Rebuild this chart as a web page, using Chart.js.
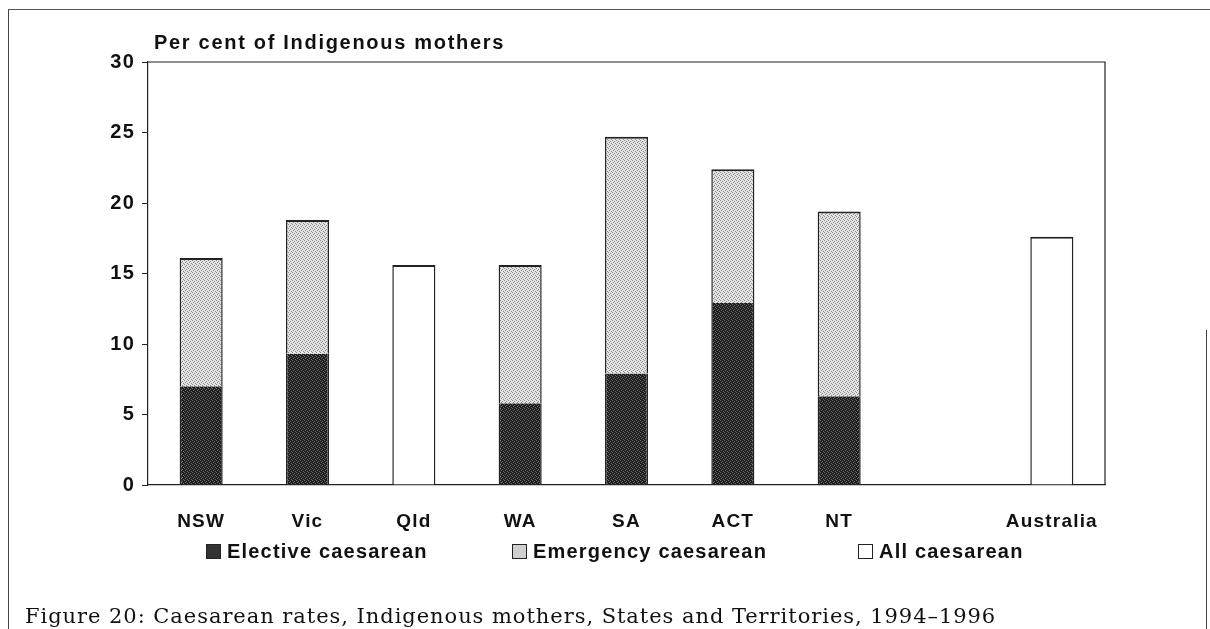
<!DOCTYPE html>
<html>
<head>
<meta charset="utf-8">
<script src="https://cdn.jsdelivr.net/npm/chart.js@4/dist/chart.umd.min.js"></script>
<style>
  html, body { margin: 0; padding: 0; background: #fff; }
  #page { position: relative; width: 1210px; height: 629px; overflow: hidden; }
  #frame { position: absolute; left: 8px; top: 9px; width: 1210px; height: 640px;
           border-top: 1px solid #555; border-left: 1px solid #444; }
  #rightEdge { position: absolute; left: 1206px; top: 330px; width: 0; height: 300px;
               border-left: 1px solid #444; }
  #wrap { position: absolute; left: 0; top: 0; width: 1210px; height: 629px; }
  #legend { position: absolute; top: 540px; left: 0; width: 1210px; height: 24px;
            font: bold 20px "Liberation Sans", Arial, sans-serif; color: #111; letter-spacing: 1.2px; }
  #legend .item { position: absolute; top: 0; white-space: nowrap; }
  #legend .box { display: inline-block; width: 15px; height: 15px; border: 1px solid #222;
                 vertical-align: -1px; margin-right: 6px; box-sizing: border-box; }
  #caption { position: absolute; left: 25px; top: 604px; white-space: nowrap; letter-spacing: 0.95px;
             font: 21px "DejaVu Serif", "Liberation Serif", serif; color: #111; }
</style>
</head>
<body>
<div id="page">
  <div id="frame"></div>
  <div id="rightEdge"></div>
  <div id="wrap"><canvas id="chart"></canvas></div>
  <div id="legend"></div>
  <div id="caption">Figure 20: Caesarean rates, Indigenous mothers, States and Territories, 1994–1996</div>
</div>
<script>
// datos
const categories = ['NSW', 'Vic', 'Qld', 'WA', 'SA', 'ACT', 'NT', '', 'Australia'];
const elective = [7.0, 9.3, null, 5.8, 7.9, 12.9, 6.3, null, null];
const emergency = [9.1, 9.5, null, 9.8, 16.8, 9.5, 13.1, null, null];
const allCaesarean = [null, null, 15.6, null, null, null, null, null, 17.6];
const seriesNames = ['Elective caesarean', 'Emergency caesarean', 'All caesarean'];
const yTicks = [0, 5, 10, 15, 20, 25, 30];
const yTitle = 'Per cent of Indigenous mothers';

// textura punteada tipo escaneo
function stipple(bg, fg) {
  const c = document.createElement('canvas');
  c.width = 4; c.height = 4;
  const g = c.getContext('2d');
  g.fillStyle = bg; g.fillRect(0, 0, 4, 4);
  g.fillStyle = fg;
  [[0, 0], [2, 1], [1, 2], [3, 3]].forEach(([x, y]) => g.fillRect(x, y, 1, 1));
  return document.createElement('canvas').getContext('2d').createPattern(c, 'repeat');
}
const darkFill = stipple('#1f1f1f', '#6a6a6a');
const lightFill = stipple('#e2e2e2', '#8c8c8c');
const legendSwatches = ['#333', '#d0d0d0', '#fff'];
const legendLeft = [206, 512, 858];

const fontFamily = '"Liberation Sans", Arial, sans-serif';

// espaciado de letras, borde superior y derecho, titulo del eje
const frameAndTitle = {
  id: 'frameAndTitle',
  beforeDraw(chart) {
    chart.ctx.letterSpacing = '1.2px';
  },
  afterDraw(chart) {
    const { ctx, chartArea: a } = chart;
    ctx.save();
    ctx.strokeStyle = '#222';
    ctx.lineWidth = 1.2;
    ctx.beginPath();
    ctx.moveTo(a.left, a.top);
    ctx.lineTo(a.right, a.top);
    ctx.lineTo(a.right, a.bottom);
    ctx.stroke();
    ctx.fillStyle = '#111';
    ctx.font = 'bold 20px ' + fontFamily;
    ctx.letterSpacing = '1.7px';
    ctx.textBaseline = 'alphabetic';
    ctx.fillText(yTitle, a.left + 6, a.top - 13);
    ctx.restore();
  }
};

const ctx = document.getElementById('chart');
const chart = new Chart(ctx, {
  type: 'bar',
  data: {
    labels: categories,
    datasets: [
      {
        label: seriesNames[0],
        data: elective,
        backgroundColor: darkFill,
        borderColor: '#222',
        borderWidth: { left: 1.5, right: 1.5, top: 0, bottom: 0 },
        borderSkipped: false
      },
      {
        label: seriesNames[1],
        data: emergency,
        backgroundColor: lightFill,
        borderColor: '#222',
        borderWidth: { left: 1.5, right: 1.5, top: 2, bottom: 0 },
        borderSkipped: false
      },
      {
        label: seriesNames[2],
        data: allCaesarean,
        backgroundColor: '#fff',
        borderColor: '#222',
        borderWidth: { left: 1.5, right: 1.5, top: 2, bottom: 0 },
        borderSkipped: false
      }
    ]
  },
  options: {
    responsive: true,
    maintainAspectRatio: false,
    animation: false,
    barPercentage: 0.405,
    categoryPercentage: 1,
    layout: { padding: { left: 0, right: 105, top: 62, bottom: 84 } },
    plugins: {
      legend: { display: false },
      tooltip: { enabled: false }
    },
    scales: {
      x: {
        stacked: true,
        grid: { display: false },
        border: { display: true, color: '#222', width: 1.2 },
        ticks: {
          color: '#111',
          padding: 17,
          font: { family: fontFamily, size: 19, weight: 'bold' },
          maxRotation: 0,
          autoSkip: false
        },
        afterFit(scale) { scale.height = 60; }
      },
      y: {
        stacked: true,
        min: 0,
        max: 30,
        afterBuildTicks(scale) { scale.ticks = yTicks.map(v => ({ value: v })); },
        grid: { drawOnChartArea: false, tickLength: 6, color: '#222' },
        border: { display: true, color: '#222', width: 1.2 },
        ticks: {
          color: '#111',
          padding: 7,
          font: { family: fontFamily, size: 20, weight: 'bold' }
        },
        afterFit(scale) { scale.width = 148; }
      }
    }
  },
  plugins: [frameAndTitle]
});

// leyenda en HTML
const legend = document.getElementById('legend');
seriesNames.forEach((name, i) => {
  const item = document.createElement('span');
  item.className = 'item';
  item.style.left = legendLeft[i] + 'px';
  const box = document.createElement('span');
  box.className = 'box';
  box.style.background = legendSwatches[i];
  item.appendChild(box);
  item.appendChild(document.createTextNode(name));
  legend.appendChild(item);
});
</script>
</body>
</html>
